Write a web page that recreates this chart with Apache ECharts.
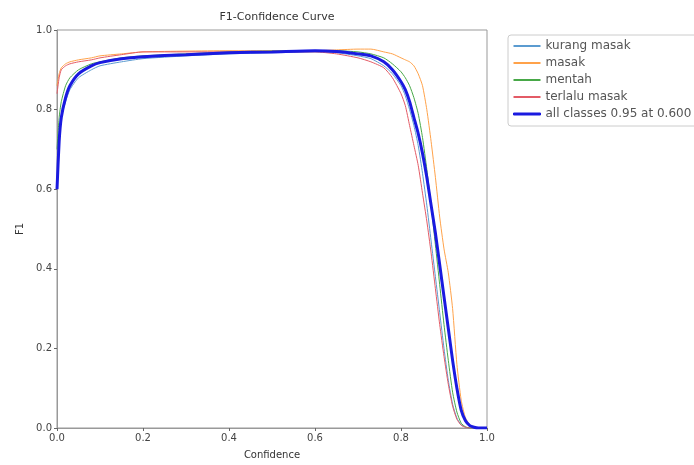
<!DOCTYPE html>
<html><head><meta charset="utf-8">
<script src="https://cdn.jsdelivr.net/npm/echarts@6/dist/echarts.min.js"></script>
<style>html,body{margin:0;padding:0;background:#fff}#c{width:694px;height:465px}</style>
</head><body><div id="c"></div>
<script>
const confidence = [0,0.005,0.01,0.02,0.03,0.05,0.08,0.1,0.15,0.2,0.3,0.4,0.5,0.6,0.65,0.7,0.73,0.76,0.78,0.8,0.81,0.82,0.83,0.84,0.85,0.86,0.87,0.88,0.89,0.9,0.91,0.92,0.93,0.94,0.95,0.96,0.97,0.98,1.0];
const kurangMasak = [0.62,0.73,0.78,0.82,0.85,0.88,0.90,0.91,0.92,0.928,0.935,0.94,0.943,0.945,0.943,0.935,0.928,0.91,0.89,0.86,0.835,0.80,0.76,0.71,0.64,0.56,0.47,0.38,0.29,0.20,0.12,0.06,0.025,0.008,0.002,0,0,0,0];
const masak = [0.86,0.89,0.905,0.915,0.92,0.925,0.93,0.935,0.94,0.945,0.947,0.948,0.948,0.948,0.95,0.952,0.952,0.945,0.94,0.93,0.925,0.92,0.91,0.89,0.86,0.80,0.72,0.63,0.53,0.45,0.39,0.30,0.16,0.07,0.025,0.008,0.002,0,0];
const mentah = [0.70,0.78,0.82,0.86,0.88,0.90,0.915,0.92,0.93,0.935,0.94,0.945,0.947,0.948,0.948,0.945,0.94,0.93,0.915,0.895,0.88,0.86,0.83,0.79,0.73,0.65,0.56,0.46,0.36,0.26,0.17,0.09,0.04,0.012,0.003,0,0,0,0];
const terlaluMasak = [0.84,0.88,0.90,0.91,0.915,0.92,0.925,0.93,0.938,0.945,0.945,0.945,0.945,0.945,0.94,0.93,0.92,0.905,0.88,0.84,0.81,0.76,0.71,0.66,0.59,0.52,0.44,0.35,0.26,0.18,0.11,0.055,0.022,0.007,0.002,0,0,0,0];
const allClasses = [0.60,0.72,0.78,0.83,0.86,0.89,0.91,0.918,0.928,0.933,0.938,0.943,0.945,0.948,0.946,0.94,0.935,0.92,0.90,0.87,0.85,0.82,0.78,0.74,0.69,0.63,0.56,0.49,0.41,0.33,0.25,0.17,0.10,0.045,0.018,0.006,0.002,0,0];
const names = ['kurang masak','masak','mentah','terlalu masak','all classes 0.95 at 0.600'];

const pairs = ys => confidence.map((x,i)=>[x, ys[i]]);
const font = 'DejaVu Sans';
const colors = ['#5b9bd0','#ffa24a','#48a848','#e35b66','#1a1ae0'];
function mk(i, ys, width, z){
  return {name:names[i], type:'line', data:pairs(ys), symbol:'none', smooth:0.2, z,
    lineStyle:{color:colors[i], width}, itemStyle:{color:colors[i]}};
}
const legendData = names.map((n,i)=>({name:n, icon:'rect',
  itemStyle: i===4 ? {color:colors[i], borderColor:colors[i], borderWidth:1} : {color:colors[i], borderWidth:0}}));
const chart = echarts.init(document.getElementById('c'), null, {renderer:'canvas'});
chart.setOption({
  animation:false,
  backgroundColor:'#fff',
  title:{text:'F1-Confidence Curve', left:272, top:7, textAlign:'center',
    textStyle:{fontFamily:font, fontSize:11, fontWeight:'normal', color:'#333'}},
  grid:{left:57, right:207, top:30, bottom:35, show:true, borderColor:'#999', borderWidth:1},
  legend:{orient:'vertical', left:508, top:35, itemWidth:27, itemHeight:2, itemGap:3,
    padding:[4,8,5,5], borderColor:'#ccc', borderWidth:1, borderRadius:3,
    data:legendData, textStyle:{fontFamily:font, fontSize:12, color:'#555', lineHeight:14}},
  xAxis:{type:'value', min:0, max:1, interval:0.2, name:'Confidence', nameLocation:'middle', nameGap:22,
    nameTextStyle:{fontFamily:font, fontSize:10, color:'#333'},
    axisLine:{show:true, lineStyle:{color:'#999'}}, axisTick:{show:true, length:3, lineStyle:{color:'#666'}},
    splitLine:{show:false},
    axisLabel:{fontFamily:font, fontSize:10, color:'#444', margin:5, formatter:v=>v.toFixed(1)}},
  yAxis:{type:'value', min:0, max:1, interval:0.2, name:'F1', nameLocation:'middle', nameGap:32,
    nameTextStyle:{fontFamily:font, fontSize:10, color:'#333'},
    axisLine:{show:true, lineStyle:{color:'#999'}}, axisTick:{show:true, length:3, lineStyle:{color:'#666'}},
    splitLine:{show:false},
    axisLabel:{fontFamily:font, fontSize:10, color:'#444', margin:5, formatter:v=>v.toFixed(1)}},
  series:[
    mk(0, kurangMasak, 1, 2),
    mk(1, masak, 1, 2),
    mk(2, mentah, 1, 2),
    mk(3, terlaluMasak, 1, 2),
    mk(4, allClasses, 3, 3)
  ]
});
</script></body></html>
